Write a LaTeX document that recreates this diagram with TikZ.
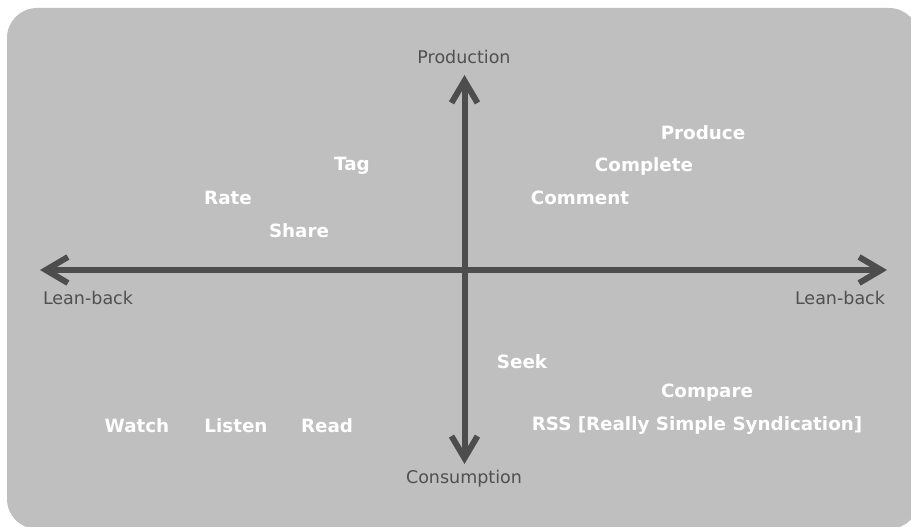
\documentclass[tikz,border=0pt]{standalone}
\usepackage{fontspec}
\setmainfont{DejaVu Sans}
\usetikzlibrary{arrows.meta}
\definecolor{bggray}{HTML}{BFBFBF}
\definecolor{axisgray}{HTML}{4D4D4D}
\definecolor{labelgray}{HTML}{505050}
\tikzset{
  axis/.style={draw=axisgray, line width=6pt, -{Straight Barb[length=22pt,width=26pt]}},
  axislabel/.style={text=labelgray, font=\fontsize{17.5}{20}\selectfont, inner sep=0pt, anchor=center},
  item/.style={text=white, font=\fontsize{18.3}{21}\bfseries\selectfont, inner sep=0pt, anchor=center}
}
\begin{document}
\begin{tikzpicture}[x=1pt,y=-1pt]
\useasboundingbox (0,0) rectangle (911,527);
\fill[white] (0,0) rectangle (911,527);
\fill[bggray, rounded corners=30pt] (7,8) rectangle (919,529);
% axis end points
\coordinate (left) at (40,270);
\coordinate (right) at (887,270);
\coordinate (top) at (464.5,75);
\coordinate (bottom) at (464.5,464);
\coordinate (origin) at (464.5,270);
\draw[axis] (origin) -- (right);
\draw[axis] (origin) -- (left);
\draw[axis] (origin) -- (top);
\draw[axis] (origin) -- (bottom);
% axis labels
\node[axislabel] (prod) at (464,57) {Production};
\node[axislabel] (cons) at (464,479) {Consumption};
\node[axislabel] (lbl) at (88,298) {Lean-back};
\node[axislabel] (lbr) at (840,298) {Lean-back};
% items
\node[item] (tag) at (352,166) {Tag};
\node[item] (rate) at (228,198) {Rate};
\node[item] (share) at (299,231) {Share};
\node[item] (produce) at (703,133) {Produce};
\node[item] (complete) at (644,166) {Complete};
\node[item] (comment) at (580,198) {Comment};
\node[item] (seek) at (522,362) {Seek};
\node[item] (compare) at (707,393) {Compare};
\node[item] (rss) at (697,426) {RSS [Really Simple Syndication]};
\node[item] (watch) at (137,426) {Watch};
\node[item] (listen) at (236,426) {Listen};
\node[item] (read) at (327,426) {Read};
\end{tikzpicture}
\end{document}
